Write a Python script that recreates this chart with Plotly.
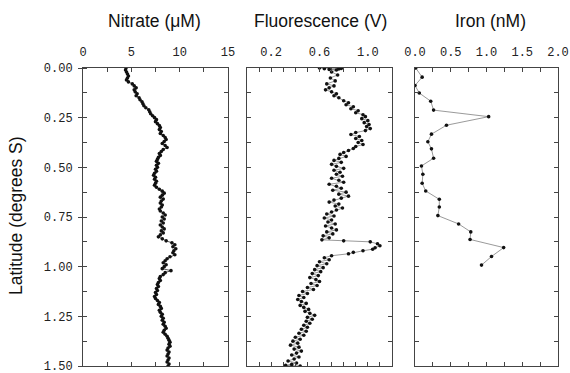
import plotly.graph_objects as go

# ---------------- data ----------------
nitrate_lat = [0.00, 0.01, 0.02, 0.03, 0.04, 0.05, 0.06, 0.07, 0.08, 0.09,
               0.10, 0.11, 0.12, 0.13, 0.14, 0.15, 0.16, 0.17, 0.18, 0.19,
               0.20, 0.21, 0.22, 0.23, 0.24, 0.25, 0.26, 0.27, 0.28, 0.29,
               0.30, 0.31, 0.32, 0.33, 0.34, 0.35, 0.36, 0.37, 0.38, 0.39,
               0.40, 0.41, 0.42, 0.43, 0.44, 0.45, 0.46, 0.47, 0.48, 0.49,
               0.50, 0.51, 0.52, 0.53, 0.54, 0.55, 0.56, 0.57, 0.58, 0.59,
               0.60, 0.61, 0.62, 0.63, 0.64, 0.65, 0.66, 0.67, 0.68, 0.69,
               0.70, 0.71, 0.72, 0.73, 0.74, 0.75, 0.76, 0.77, 0.78, 0.79,
               0.80, 0.81, 0.82, 0.83, 0.84, 0.85, 0.86, 0.87, 0.88, 0.89,
               0.90, 0.91, 0.92, 0.93, 0.94, 0.95, 0.96, 0.97, 0.98, 0.99,
               1.00, 1.01, 1.02, 1.03, 1.04, 1.05, 1.06, 1.07, 1.08, 1.09,
               1.10, 1.11, 1.12, 1.13, 1.14, 1.15, 1.16, 1.17, 1.18, 1.19,
               1.20, 1.21, 1.22, 1.23, 1.24, 1.25, 1.26, 1.27, 1.28, 1.29,
               1.30, 1.31, 1.32, 1.33, 1.34, 1.35, 1.36, 1.37, 1.38, 1.39,
               1.40, 1.41, 1.42, 1.43, 1.44, 1.45, 1.46, 1.47, 1.48, 1.49,
               1.50]
nitrate_val = [4.45, 4.4, 4.5, 4.6, 4.7, 4.6, 4.5, 4.7, 5.1, 5.3,
               5.5, 5.3, 5.4, 5.6, 5.5, 5.8, 5.9, 6.1, 6.2, 6.3,
               6.5, 6.8, 6.9, 7.0, 7.2, 7.4, 7.6, 7.5, 7.7, 7.9,
               8.0, 7.9, 8.1, 8.0, 8.3, 8.5, 8.6, 8.4, 8.2, 8.5,
               8.7, 8.3, 8.1, 7.9, 8.0, 7.8, 7.7, 7.6, 7.8, 7.6,
               7.7, 7.5, 7.6, 7.4, 7.3, 7.5, 7.4, 7.6, 7.5, 7.4,
               7.6, 7.9, 8.2, 8.4, 8.2, 8.0, 8.3, 8.1, 8.0, 8.2,
               8.1, 7.9, 8.0, 8.3, 8.5, 8.2, 8.4, 8.1, 8.3, 8.0,
               8.2, 8.4, 8.1, 8.3, 8.0, 7.8, 8.2, 8.6, 9.2, 9.5,
               9.3, 9.6, 9.4, 9.3, 9.5, 9.0, 8.7, 8.5, 8.3, 8.6,
               8.4, 8.2, 9.1, 8.5, 8.3, 8.0, 7.9, 8.0, 7.8, 7.7,
               7.8, 7.6, 7.7, 7.5, 7.6, 7.4, 7.5, 7.7, 7.9, 7.8,
               8.0, 8.1, 7.9, 8.0, 8.2, 8.1, 8.3, 8.2, 8.4, 8.3,
               8.5, 8.6, 8.4, 8.3, 8.5, 8.7, 8.8, 8.9, 9.0, 8.9,
               9.0, 8.8, 8.7, 8.9, 8.8, 8.7, 8.9, 8.8, 8.7, 8.9,
               8.8]

fluor_lat = [0.000, 0.002, 0.004, 0.005, 0.007, 0.010, 0.020, 0.035, 0.050, 0.065,
             0.080, 0.090, 0.100, 0.110, 0.120, 0.130, 0.140, 0.150, 0.165, 0.175,
             0.185, 0.195, 0.205, 0.215, 0.225, 0.235, 0.245, 0.255, 0.265, 0.275,
             0.285, 0.295, 0.305, 0.315, 0.325, 0.335, 0.345, 0.355, 0.365, 0.375,
             0.385, 0.395, 0.405, 0.415, 0.425, 0.435, 0.445, 0.455, 0.465, 0.475,
             0.485, 0.495, 0.505, 0.515, 0.525, 0.535, 0.545, 0.555, 0.565, 0.575,
             0.585, 0.595, 0.605, 0.615, 0.625, 0.635, 0.645, 0.655, 0.665, 0.675,
             0.685, 0.695, 0.705, 0.715, 0.725, 0.735, 0.745, 0.755, 0.765, 0.775,
             0.785, 0.795, 0.805, 0.815, 0.825, 0.835, 0.845, 0.855, 0.865, 0.870,
             0.875, 0.885, 0.895, 0.905, 0.912, 0.920, 0.928, 0.935, 0.945, 0.955,
             0.965, 0.975, 0.985, 0.995, 1.005, 1.015, 1.025, 1.035, 1.045, 1.055,
             1.065, 1.075, 1.085, 1.095, 1.105, 1.115, 1.125, 1.135, 1.145, 1.155,
             1.165, 1.175, 1.185, 1.195, 1.205, 1.215, 1.225, 1.235, 1.245, 1.255,
             1.265, 1.275, 1.285, 1.295, 1.305, 1.315, 1.325, 1.335, 1.345, 1.355,
             1.365, 1.375, 1.385, 1.395, 1.405, 1.415, 1.425, 1.435, 1.445, 1.455,
             1.465, 1.475, 1.485, 1.492, 1.497, 1.500]
fluor_val = [0.60, 0.78, 0.64, 0.76, 0.68, 0.74, 0.70, 0.75, 0.69, 0.73,
             0.66, 0.72, 0.68, 0.65, 0.70, 0.74, 0.72, 0.76, 0.80, 0.84,
             0.82, 0.88, 0.86, 0.92, 0.90, 0.96, 0.98, 0.95, 1.00, 0.97,
             1.01, 0.99, 1.02, 0.98, 0.90, 0.86, 0.93, 0.90, 0.95, 0.92,
             0.96, 0.90, 0.88, 0.84, 0.80, 0.77, 0.82, 0.76, 0.72, 0.78,
             0.70, 0.74, 0.80, 0.72, 0.77, 0.74, 0.79, 0.70, 0.76, 0.80,
             0.68, 0.74, 0.78, 0.71, 0.82, 0.76, 0.84, 0.78, 0.72, 0.68,
             0.76, 0.73, 0.79, 0.74, 0.70, 0.66, 0.72, 0.64, 0.70, 0.67,
             0.73, 0.65, 0.70, 0.74, 0.66, 0.71, 0.63, 0.68, 0.62, 0.80,
             1.02, 1.08, 1.10, 1.06, 1.04, 0.96, 0.88, 0.84, 0.70, 0.64,
             0.68, 0.60, 0.66, 0.58, 0.63, 0.56, 0.61, 0.54, 0.59, 0.52,
             0.57, 0.60, 0.53, 0.58, 0.50, 0.55, 0.46, 0.50, 0.43, 0.47,
             0.42, 0.45, 0.49, 0.44, 0.47, 0.51, 0.48, 0.52, 0.56, 0.50,
             0.54, 0.49, 0.52, 0.47, 0.50, 0.45, 0.49, 0.43, 0.47, 0.40,
             0.44, 0.38, 0.42, 0.36, 0.43, 0.39, 0.45, 0.41, 0.37, 0.43,
             0.39, 0.34, 0.41, 0.37, 0.32, 0.44]

iron_lat = [0.000, 0.046, 0.088, 0.126, 0.167, 0.212, 0.245, 0.288, 0.333, 0.371,
            0.407, 0.454, 0.493, 0.535, 0.580, 0.619, 0.661, 0.700, 0.743, 0.785,
            0.825, 0.863, 0.904, 0.949, 0.992]
iron_val = [0.01, 0.10, 0.00, 0.06, 0.22, 0.26, 1.03, 0.44, 0.23, 0.18,
            0.23, 0.26, 0.09, 0.11, 0.10, 0.15, 0.34, 0.34, 0.32, 0.61,
            0.78, 0.77, 1.24, 1.07, 0.93]

titles = ["Nitrate (μM)", "Fluorescence (V)", "Iron (nM)"]
y_title = "Latitude (degrees S)"
lat_ticks = [0.00, 0.25, 0.50, 0.75, 1.00, 1.25, 1.50]
x_ranges = [[0, 15], [0, 1.2], [0, 2.0]]
x_tickvals = [[0, 5, 10, 15], [0.2, 0.6, 1.0], [0.0, 0.5, 1.0, 1.5, 2.0]]
x_ticktext = [["0", "5", "10", "15"], ["0.2", "0.6", "1.0"],
              ["0.0", "0.5", "1.0", "1.5", "2.0"]]
x_minor = [2.5, 0.1, 0.25]

# ---------------- figure ----------------
W, H = 570, 373
px_dom = [(83, 228), (247, 392), (415, 558)]
y_dom = [7 / H, 1 - 68 / H]

tick_font = dict(family="Liberation Mono", size=12, color="#222222")
line_col = "#444444"

fig = go.Figure()
series = [(nitrate_val, nitrate_lat, 3.6, 1.0),
          (fluor_val, fluor_lat, 3.6, 0.6),
          (iron_val, iron_lat, 3.6, 0.6)]
for i, (xv, yv, ms, lw) in enumerate(series):
    n = "" if i == 0 else str(i + 1)
    fig.add_trace(go.Scatter(
        x=xv, y=yv, xaxis="x" + n, yaxis="y" + n, mode="lines+markers",
        marker=dict(size=ms, color="#111111"),
        line=dict(color="#555555", width=lw), showlegend=False))

layout = dict(template="none", width=W, height=H, autosize=False,
              margin=dict(l=0, r=0, t=0, b=0, pad=0),
              paper_bgcolor="white", plot_bgcolor="white", showlegend=False)

for i in range(3):
    n = "" if i == 0 else str(i + 1)
    d = [px_dom[i][0] / W, px_dom[i][1] / W]
    layout["xaxis" + n] = dict(
        domain=d, anchor="y" + n, side="top", range=x_ranges[i],
        tickvals=x_tickvals[i], ticktext=x_ticktext[i], ticks="inside",
        ticklen=4, tickcolor=line_col, tickwidth=1,
        minor=dict(dtick=x_minor[i], ticks="inside", ticklen=4, tickcolor=line_col),
        showline=True, linecolor=line_col, linewidth=1, mirror="ticks",
        showgrid=False, zeroline=False, tickfont=tick_font, ticklabelstandoff=6,
        ticklabeloverflow="allow", automargin=False, fixedrange=True)
    if i == 0:
        layout["yaxis"] = dict(
            domain=y_dom, anchor="x", range=[1.5, 0], tickvals=lat_ticks,
            tickformat=".2f", ticks="outside", ticklen=4, tickcolor=line_col,
            minor=dict(dtick=0.125, ticks="inside", ticklen=4, tickcolor=line_col),
            showline=True, linecolor=line_col, linewidth=1, mirror=True,
            showgrid=False, zeroline=False, tickfont=tick_font, ticklabelstandoff=3,
            ticklabeloverflow="allow", automargin=False)
    else:
        layout["yaxis" + n] = dict(
            domain=y_dom, anchor="x" + n, range=[1.5, 0], dtick=0.125, tick0=0,
            ticks="inside", ticklen=4, tickcolor=line_col, showticklabels=False,
            showline=True, linecolor=line_col, linewidth=1, mirror="ticks",
            showgrid=False, zeroline=False, automargin=False)

# right-side inward ticks for the first panel
layout["yaxis4"] = dict(overlaying="y", side="right", anchor="x", range=[1.5, 0],
                        dtick=0.125, tick0=0, ticks="inside", ticklen=4,
                        tickcolor=line_col, showticklabels=False, showline=False,
                        showgrid=False, zeroline=False, automargin=False)
fig.add_trace(go.Scatter(x=[None], y=[None], xaxis="x", yaxis="y4",
                         showlegend=False, hoverinfo="skip"))

title_x = [154.5, 320.5, 490]
ann = []
for t, xc in zip(titles, title_x):
    ann.append(dict(text=t, x=xc / W, y=1 - 21 / H, xref="paper", yref="paper",
                    xanchor="center", yanchor="middle", showarrow=False,
                    font=dict(family="Liberation Sans", size=17.5, color="#111111")))
ann.append(dict(text=y_title, x=16 / W, y=1 - 216 / H, xref="paper", yref="paper",
                xanchor="center", yanchor="middle", textangle=-90, showarrow=False,
                font=dict(family="Liberation Sans", size=17.5, color="#111111")))
layout["annotations"] = ann

fig.update_layout(**layout)
fig.write_html("out.html", config={"responsive": False, "displayModeBar": False},
               post_script="document.body.style.margin='0';"
                           "document.documentElement.style.overflow='hidden';")
